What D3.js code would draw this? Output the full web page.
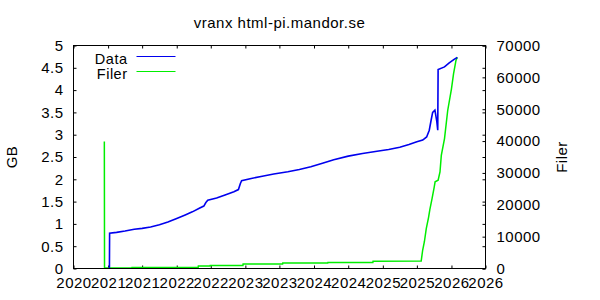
<!DOCTYPE html>
<html>
<head>
<meta charset="utf-8">
<script src="https://cdn.jsdelivr.net/npm/d3@7"></script>
<style>
  body { margin: 0; background: #fff; }
  svg text { font-family: "Liberation Sans", Arial, sans-serif; font-size: 15px; letter-spacing: 0.5px; fill: #000; }
</style>
</head>
<body>
<div class="container"></div>
<script>
  var width = 600,
    height = 300;

  var title = "vranx html-pi.mandor.se";
  var seriesNames = ["Data", "Filer"];

  // Data (GB) series
  var dataDates = ["2021-01-08", "2021-01-09", "2021-02-15", "2021-04-01", "2021-05-20", "2021-07-01",
    "2021-08-15", "2021-10-01", "2021-11-15", "2022-01-01", "2022-02-15", "2022-03-25", "2022-05-01",
    "2022-05-25", "2022-06-05", "2022-06-15", "2022-08-01", "2022-09-15", "2022-11-01", "2022-11-25",
    "2022-12-05", "2022-12-12", "2023-02-01", "2023-04-01", "2023-06-01", "2023-08-15", "2023-10-15",
    "2023-12-15", "2024-02-15", "2024-04-15", "2024-07-01", "2024-09-15", "2024-12-01", "2025-02-01",
    "2025-04-01", "2025-05-20", "2025-07-01", "2025-08-01", "2025-08-22", "2025-09-05", "2025-09-15",
    "2025-09-23", "2025-10-05", "2025-10-15", "2025-10-20", "2025-10-22", "2025-11-25", "2025-12-20",
    "2026-01-15", "2026-02-01"];
  var dataGB = [0, 0.79, 0.81, 0.84, 0.88, 0.90,
    0.93, 0.98, 1.04, 1.12, 1.20, 1.27, 1.35,
    1.40, 1.48, 1.53, 1.58, 1.65, 1.72, 1.77,
    1.90, 1.97, 2.02, 2.07, 2.12, 2.17, 2.22,
    2.28, 2.36, 2.44, 2.52, 2.58, 2.63, 2.67,
    2.72, 2.78, 2.84, 2.88, 2.95, 3.10, 3.33,
    3.50, 3.55, 3.30, 3.10, 4.46, 4.52, 4.61,
    4.69, 4.73];

  // Filer (file count) series
  var filerDates = ["2020-12-12", "2020-12-13", "2021-05-07", "2021-05-08", "2022-04-25", "2022-04-26",
    "2022-06-27", "2022-06-28", "2022-12-19", "2022-12-20", "2023-07-18", "2023-07-19", "2024-03-14",
    "2024-03-15", "2024-11-09", "2024-11-10", "2025-07-24", "2025-08-01", "2025-08-10", "2025-08-20",
    "2025-09-01", "2025-09-08", "2025-09-20", "2025-10-01", "2025-10-06", "2025-10-22", "2025-11-01",
    "2025-11-08", "2025-11-25", "2025-12-12", "2026-01-01", "2026-01-12", "2026-01-25", "2026-02-01"];
  var filerCount = [39900, 150, 150, 350, 350, 750,
    750, 970, 970, 1380, 1380, 1690, 1690,
    1910, 1910, 2250, 2350, 5800, 8400, 12500,
    16000, 18500, 22000, 25500, 27200, 27700, 30300,
    35500, 40800, 49600, 56400, 61100, 65300, 66300];

  var xDomain = ["2020-07-01", "2026-07-01"];
  var y1Ticks = [0, 0.5, 1, 1.5, 2, 2.5, 3, 3.5, 4, 4.5, 5];
  var y2Ticks = [0, 10000, 20000, 30000, 40000, 50000, 60000, 70000];

  var parse = d3.timeParse("%Y-%m-%d");
  var margin = { left: 73.5, right: 114.5, top: 45.5, bottom: 31.5 };
  var plotW = width - margin.left - margin.right,
    plotH = height - margin.top - margin.bottom;

  var x = d3.scaleTime().domain(xDomain.map(parse)).range([0, plotW]);
  var y1 = d3.scaleLinear().domain([0, 5]).range([plotH, 0]);
  var y2 = d3.scaleLinear().domain([0, 70000]).range([plotH, 0]);

  var svg = d3.select(".container").append("svg")
    .attr("width", width)
    .attr("height", height);

  svg.append("text")
    .attr("x", margin.left + plotW / 2)
    .attr("y", 28)
    .attr("text-anchor", "middle")
    .text(title);

  var g = svg.append("g")
    .attr("transform", "translate(" + margin.left + "," + margin.top + ")");

  var xTicks = d3.timeMonth.every(6);

  function styleAxis(sel) {
    sel.select(".domain").remove();
    sel.selectAll("line").attr("stroke", "#000");
    sel.selectAll("text").style("font-size", "15px");
  }

  // bottom + top
  g.append("g").attr("transform", "translate(0," + plotH + ")")
    .call(d3.axisBottom(x).ticks(xTicks).tickFormat(d3.timeFormat("%Y")).tickSize(-3).tickPadding(4))
    .call(styleAxis)
    .selectAll("text").attr("dy", "1.05em");
  g.append("g")
    .call(d3.axisTop(x).ticks(xTicks).tickFormat("").tickSize(-3))
    .call(styleAxis);

  // left y1
  g.append("g")
    .call(d3.axisLeft(y1).tickValues(y1Ticks).tickFormat(d3.format("")).tickSize(-3).tickPadding(10))
    .call(styleAxis);

  // right: y2 labels, plus mirrored y1 ticks
  g.append("g").attr("transform", "translate(" + plotW + ",0)")
    .call(d3.axisRight(y2).tickValues(y2Ticks).tickFormat(d3.format("d")).tickSize(-3).tickPadding(11))
    .call(styleAxis);
  g.append("g").attr("transform", "translate(" + plotW + ",0)")
    .call(d3.axisRight(y1).tickValues(y1Ticks).tickFormat("").tickSize(-3))
    .call(styleAxis);

  var dataRows = dataDates.map(function(d, i) { return { date: parse(d), value: dataGB[i] }; });
  var filerRows = filerDates.map(function(d, i) { return { date: parse(d), value: filerCount[i] }; });

  var lineData = d3.line()
    .x(function(d) { return x(d.date); })
    .y(function(d) { return y1(d.value); });
  var lineFiler = d3.line()
    .x(function(d) { return x(d.date); })
    .y(function(d) { return y2(d.value); });

  g.append("path").datum(filerRows)
    .attr("fill", "none").attr("stroke", "#00ee00").attr("stroke-width", 1.5)
    .attr("d", lineFiler);
  g.append("path").datum(dataRows)
    .attr("fill", "none").attr("stroke", "#0000ee").attr("stroke-width", 1.6)
    .attr("d", lineData);

  // frame
  g.append("rect")
    .attr("width", plotW).attr("height", plotH)
    .attr("fill", "none").attr("stroke", "#000").attr("stroke-width", 1);

  // legend
  var legendColors = ["#0000ee", "#00ee00"];
  var legend = g.selectAll(".legend")
    .data(seriesNames)
    .enter().append("g")
    .attr("class", "legend")
    .attr("transform", function(d, i) { return "translate(0," + (11 + i * 15) + ")"; });
  legend.append("text")
    .attr("x", 54).attr("y", 3)
    .attr("dy", ".3em")
    .style("font-size", "14.5px")
    .attr("text-anchor", "end")
    .text(function(d) { return d; });
  legend.append("line")
    .attr("x1", 63).attr("x2", 102)
    .attr("stroke", function(d, i) { return legendColors[i]; })
    .attr("stroke-width", 1);

  // axis titles
  svg.append("text")
    .attr("transform", "translate(17," + (margin.top + plotH / 2) + ") rotate(-90)")
    .attr("text-anchor", "middle")
    .text("GB");
  svg.append("text")
    .attr("transform", "translate(567," + (margin.top + plotH / 2) + ") rotate(-90)")
    .attr("text-anchor", "middle")
    .text("Filer");
</script>
</body>
</html>
